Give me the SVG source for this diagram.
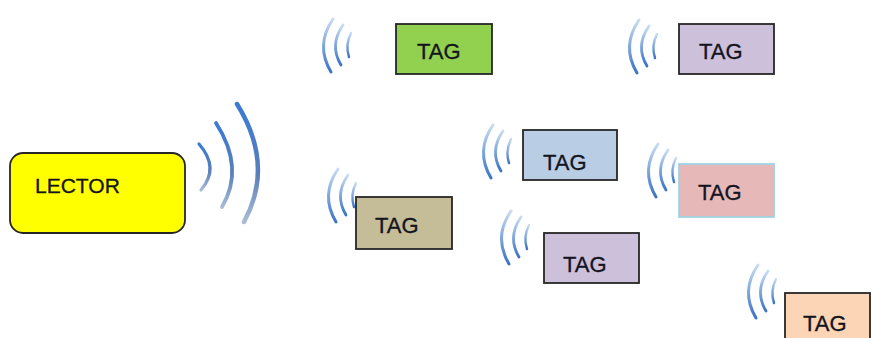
<svg xmlns="http://www.w3.org/2000/svg" width="872" height="338" viewBox="0 0 872 338">
<defs>
<style>
.box{stroke:#262626;stroke-width:1.8}
.lbl{font-family:"Liberation Sans",Arial,sans-serif;font-size:22px;fill:#14141e;stroke:#14141e;stroke-width:0.3}
.arc{fill:none;stroke:url(#wg);stroke-linecap:round}
.larc{fill:none;stroke:url(#lg);stroke-linecap:round}
</style>
<linearGradient id="wg" x1="0" y1="0" x2="0" y2="1">
<stop offset="0" stop-color="#c9dcf2"/>
<stop offset="0.5" stop-color="#7fa8dc"/>
<stop offset="1" stop-color="#3b73c6"/>
</linearGradient>
<linearGradient id="lg" x1="0" y1="0" x2="0" y2="1">
<stop offset="0" stop-color="#3a7ad6"/>
<stop offset="0.6" stop-color="#5a7fb8"/>
<stop offset="1" stop-color="#a9bcd6"/>
</linearGradient>
<g id="wave">
<path class="arc" stroke-width="3" d="M12 2 Q-6 28 10 55"/>
<path class="arc" stroke-width="2.8" d="M22 8 Q8 28 20 48"/>
<path class="arc" stroke-width="2.4" d="M30 16 Q24 28 28 40"/>
</g>
</defs>
<rect width="872" height="338" fill="#ffffff"/>
<g id="connectors">
<g id="lector-waves">
<path class="larc" stroke-width="4.5" d="M237 104 Q275 165 244 222"/>
<path class="larc" stroke-width="3.8" d="M216 123 Q245 168 222 207"/>
<path class="larc" stroke-width="3.2" d="M199 144 Q220 168 201 190"/>
</g>
<use href="#wave" x="321" y="17"/>
<use href="#wave" x="627" y="18"/>
<use href="#wave" x="481" y="123"/>
<use href="#wave" x="326" y="167"/>
<use href="#wave" x="646" y="142"/>
<use href="#wave" x="499" y="209"/>
<use href="#wave" x="746" y="263"/>
</g>
<g id="lector">
<rect class="box" x="10" y="153" width="175" height="80" rx="13" fill="#ffff00"/>
<text class="lbl" x="35" y="193" style="font-size:21px">LECTOR</text>
</g>
<g id="tag1">
<rect class="box" x="396" y="24" width="96" height="50" fill="#92d050"/>
<text class="lbl" x="417" y="59">TAG</text>
</g>
<g id="tag2">
<rect class="box" x="679" y="24" width="95" height="50" fill="#ccc0da"/>
<text class="lbl" x="699" y="59">TAG</text>
</g>
<g id="tag3">
<rect class="box" x="523" y="130" width="94" height="50" fill="#b9cde5"/>
<text class="lbl" x="543" y="170">TAG</text>
</g>
<g id="tag4">
<rect class="box" x="356" y="197" width="96" height="52" fill="#c4bd97"/>
<text class="lbl" x="375" y="233">TAG</text>
</g>
<g id="tag5">
<rect x="679" y="164" width="95" height="53" fill="#e6b9b8" stroke="#9fd3e3" stroke-width="1.8"/>
<text class="lbl" x="698" y="200">TAG</text>
</g>
<g id="tag6">
<rect class="box" x="544" y="233" width="95" height="50" fill="#ccc0da"/>
<text class="lbl" x="563" y="272">TAG</text>
</g>
<g id="tag7">
<rect class="box" x="785" y="293" width="85" height="55" fill="#fbd5b5"/>
<text class="lbl" x="803" y="331">TAG</text>
</g>
</svg>
